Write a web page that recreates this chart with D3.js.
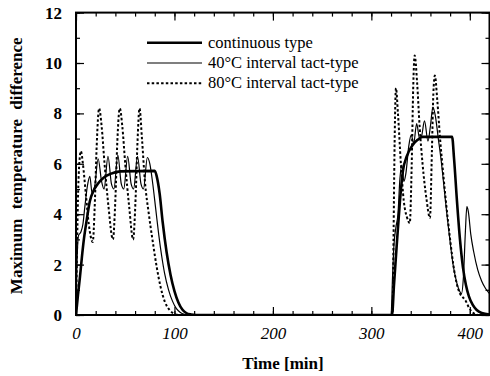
<!DOCTYPE html>
<html>
<head>
<meta charset="utf-8">
<script src="https://cdn.jsdelivr.net/npm/d3@7"></script>
<style>
  body { margin: 0; background: #fff; }
  svg { display: block; }
  .tick text { font-family: "Liberation Serif", "DejaVu Serif", serif; }
</style>
</head>
<body>
<div id="chart"></div>
<script>
// Values: [time (min), max temperature difference]
const continuousType = [
  [0,0],[2,0.8],[4,1.5],[6,2.3],[8,3.0],[11,3.8],[14,4.5],[18,4.95],[22,5.2],[28,5.45],[35,5.6],[45,5.7],
  [80,5.72],[82,5.5],[85,4.8],[88,3.7],[92,2.5],[96,1.6],[100,0.95],[104,0.5],[108,0.22],[112,0.08],[117,0.02],[122,0],
  [320,0],[321,0],[323,1.2],[326,2.9],[329,4.5],[332,5.7],[336,6.3],[342,6.75],[347,6.95],[352,7.07],
  [382,7.07],[384,6.2],[387,4.5],[390,3.0],[393,1.9],[396,1.2],[399,0.75],[403,0.4],[407,0.2],[412,0.08],[420,0.02]
];

const interval40 = [
  [0,0],[1,2.0],[2.5,3.15],[5,3.3],[7,3.6],[9,4.3],[11.5,5.1],[14,5.5],[16.5,4.8],[19,5.1],[22.5,6.2],[26,5.3],
  [28.5,5.0],[32.5,6.3],[36,5.2],[38.5,5.0],[42.5,6.35],[46,5.2],[48.5,5.0],[52.5,6.3],[56,5.2],[58.5,5.0],
  [62.5,6.3],[66,5.2],[68.5,5.0],[72.5,6.25],[75,6.0],[78,5.2],[81,4.2],[84,3.2],[87,2.35],[90,1.65],[94,1.0],
  [98,0.55],[102,0.25],[106,0.1],[110,0.03],[115,0],
  [320,0],[321.5,1.5],[323,2.8],[325,3.5],[327,4.0],[329,5.4],[331,5.95],[333,5.3],[335,5.6],[338,6.7],
  [340.5,7.15],[343,6.8],[346,7.6],[349,7.0],[351,7.1],[354,7.7],[357.5,6.9],[360,7.5],[362.5,8.25],[365,7.9],
  [368,7.0],[371,6.1],[374,5.0],[377,3.9],[380,2.9],[383,2.0],[386,1.4],[389,1.0],[391.5,0.85],[393.5,1.5],
  [395.5,3.3],[397,4.3],[398.5,4.1],[401,3.2],[404,2.5],[408,1.8],[412,1.35],[416,1.05],[420,0.85]
];

const interval80 = [
  [0,0],[1,2.5],[2,4.6],[3.5,6.1],[5,6.5],[7,6.0],[10,4.8],[13,3.6],[17,2.9],[19,4.3],[21,6.7],[23.5,8.2],
  [26,7.5],[29,6.0],[33,4.3],[37.5,3.0],[40,4.6],[42,6.9],[44.5,8.2],[47,7.5],[50,6.0],[54,4.3],[58,3.0],
  [60.5,4.6],[62.5,6.9],[64.5,8.2],[67,7.0],[70,5.3],[74,4.0],[78,2.9],[82,1.9],[86,1.1],[90,0.55],[95,0.2],
  [100,0.05],[105,0],
  [320,0],[321.5,0],[322.5,3.0],[323.5,6.5],[325,9.0],[327,8.0],[330,6.0],[333,4.5],[336,3.9],[339,3.65],
  [341,6.0],[342.5,9.0],[344,10.3],[346.5,9.2],[349,7.5],[352,6.0],[356,4.6],[359.5,3.85],[361.5,6.5],
  [363,8.8],[364.5,9.5],[367,8.5],[370,6.9],[373,5.6],[376,4.4],[380,3.0],[384,1.8],[387,1.2],[390,0.85],
  [393,0.7],[396,0.55],[399,0.3],[403,0.1],[408,0]
];

const seriesNames = ["continuous type", "40°C interval tact-type", "80°C interval tact-type"];
const xMajorTicks = [0, 100, 200, 300, 400];
const yMajorTicks = [0, 2, 4, 6, 8, 10, 12];

const W = 490, H = 376;
const serif = "'Liberation Serif', 'Times New Roman', serif";

const svg = d3.select("#chart").append("svg")
  .attr("width", W)
  .attr("height", H);

const x = d3.scaleLinear().domain([0, 420]).range([76, 489.5]);
const y = d3.scaleLinear().domain([0, 12]).range([315, 12.6]);

// clip for the curves
svg.append("clipPath").attr("id", "plotClip")
  .append("rect")
  .attr("x", x(0)).attr("y", y(12))
  .attr("width", x(420) - x(0)).attr("height", y(0) - y(12));

const line = d3.line()
  .x(d => x(d[0]))
  .y(d => y(d[1]))
  .curve(d3.curveMonotoneX);

const plot = svg.append("g").attr("clip-path", "url(#plotClip)");

plot.append("path")
  .datum(interval80)
  .attr("fill", "none")
  .attr("stroke", "#000")
  .attr("stroke-width", 2)
  .attr("stroke-dasharray", "2.5,2.2")
  .attr("d", line);

plot.append("path")
  .datum(interval40)
  .attr("fill", "none")
  .attr("stroke", "#000")
  .attr("stroke-width", 1.2)
  .attr("d", line);

plot.append("path")
  .datum(continuousType)
  .attr("fill", "none")
  .attr("stroke", "#000")
  .attr("stroke-width", 2.6)
  .attr("d", line);

// Axes: ticks point inward on all four sides
function styleAxis(g) {
  g.select(".domain").remove();
  g.selectAll(".tick line").attr("stroke", "#000").attr("stroke-width", 1.2);
}

const xMinor = d3.range(0, 421, 20);
const yMinor = d3.range(0, 12.1, 1);

svg.append("g")
  .attr("transform", `translate(0,${y(0)})`)
  .call(d3.axisBottom(x).tickValues(xMinor).tickSize(-4).tickFormat(""))
  .call(styleAxis);

svg.append("g")
  .attr("transform", `translate(0,${y(0)})`)
  .call(d3.axisBottom(x).tickValues(xMajorTicks).tickSize(-8).tickPadding(12))
  .call(styleAxis)
  .call(g => g.selectAll(".tick text")
    .attr("font-size", 17)
    .attr("font-style", "italic")
    .attr("fill", "#000"));

svg.append("g")
  .attr("transform", `translate(0,${y(12)})`)
  .call(d3.axisTop(x).tickValues(xMinor).tickSize(-4).tickFormat(""))
  .call(styleAxis);

svg.append("g")
  .attr("transform", `translate(0,${y(12)})`)
  .call(d3.axisTop(x).tickValues(xMajorTicks).tickSize(-8).tickFormat(""))
  .call(styleAxis);

svg.append("g")
  .attr("transform", `translate(${x(0)},0)`)
  .call(d3.axisLeft(y).tickValues(yMinor).tickSize(-4).tickFormat(""))
  .call(styleAxis);

svg.append("g")
  .attr("transform", `translate(${x(0)},0)`)
  .call(d3.axisLeft(y).tickValues(yMajorTicks).tickSize(-8).tickPadding(14))
  .call(styleAxis)
  .call(g => g.selectAll(".tick text")
    .attr("font-size", 17)
    .attr("font-weight", "bold")
    .attr("fill", "#000"));

svg.append("g")
  .attr("transform", `translate(${x(420)},0)`)
  .call(d3.axisRight(y).tickValues(yMinor).tickSize(-4).tickFormat(""))
  .call(styleAxis);

svg.append("g")
  .attr("transform", `translate(${x(420)},0)`)
  .call(d3.axisRight(y).tickValues(yMajorTicks).tickSize(-8).tickFormat(""))
  .call(styleAxis);

// frame
svg.append("rect")
  .attr("x", x(0)).attr("y", y(12))
  .attr("width", x(420) - x(0)).attr("height", y(0) - y(12))
  .attr("fill", "none")
  .attr("stroke", "#000")
  .attr("stroke-width", 2);

// axis titles
svg.append("text")
  .attr("x", 283)
  .attr("y", 369)
  .attr("text-anchor", "middle")
  .attr("font-family", serif)
  .attr("font-size", 17)
  .attr("font-weight", "bold")
  .text("Time [min]");

svg.append("text")
  .attr("transform", `translate(22,${(y(0) + y(12)) / 2 + 2}) rotate(-90)`)
  .attr("text-anchor", "middle")
  .attr("font-family", serif)
  .attr("font-size", 17)
  .attr("font-weight", "bold")
  .attr("word-spacing", 5)
  .text("Maximum temperature difference");

// legend
const legendStyles = [
  { width: 2.6, dash: null },
  { width: 1.2, dash: null },
  { width: 2, dash: "2.5,2.2" }
];
const legend = svg.append("g");
seriesNames.forEach((name, i) => {
  const ly = 42.7 + i * 20.3;
  legend.append("line")
    .attr("x1", 147).attr("x2", 202)
    .attr("y1", ly).attr("y2", ly)
    .attr("stroke", "#000")
    .attr("stroke-width", legendStyles[i].width)
    .attr("stroke-dasharray", legendStyles[i].dash);
  legend.append("text")
    .attr("x", 208)
    .attr("y", ly + 5)
    .attr("font-family", serif)
    .attr("font-size", 16.5)
    .text(name);
});
</script>
</body>
</html>
